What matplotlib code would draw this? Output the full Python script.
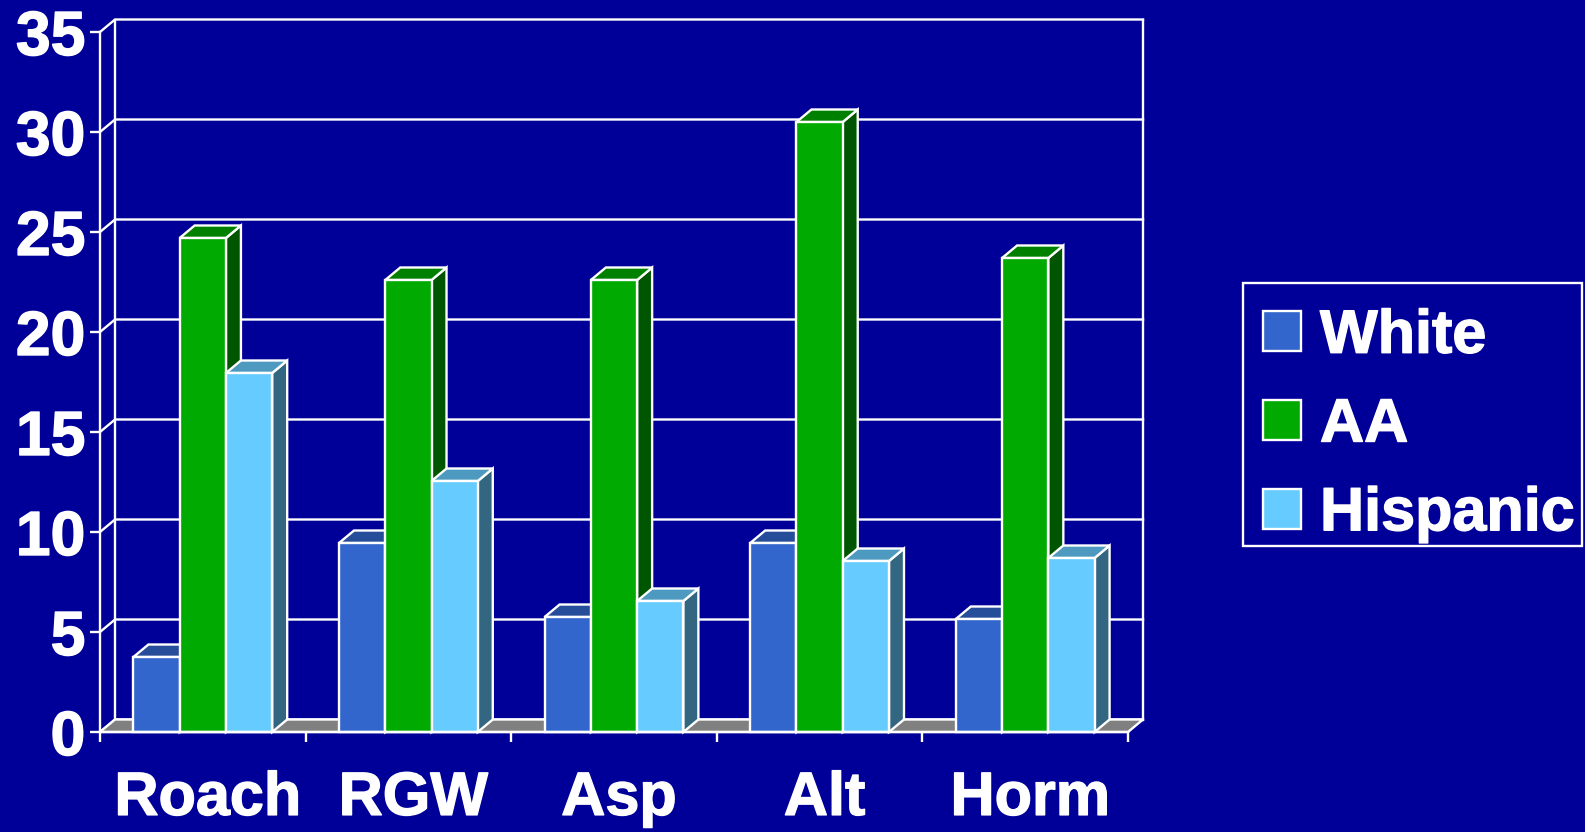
import matplotlib
matplotlib.use("Agg")
import matplotlib.pyplot as plt
import matplotlib.patheffects as pe
from matplotlib.patches import Patch, Rectangle
from matplotlib.transforms import ScaledTranslation

plt.rcParams['font.family'] = ['Liberation Sans', 'DejaVu Sans']

categories = ["Roach", "RGW", "Asp", "Alt", "Horm"]
series_names = ["White", "AA", "Hispanic"]
white = [3.75, 9.45, 5.75, 9.45, 5.65]
aa = [24.7, 22.6, 22.6, 30.5, 23.7]
hispanic = [17.95, 12.55, 6.55, 8.55, 8.7]
yticks = [0, 5, 10, 15, 20, 25, 30, 35]

BG = '#000099'
FRONT = ['#3366CC', '#00AA00', '#66CCFF']
TOP = ['#264D99', '#008000', '#4D99BF']
SIDE = ['#1F3D7A', '#005500', '#336680']

W, H = 1585, 832
L, R, T, B = 100, 1128, 32, 732
fig = plt.figure(figsize=(W / 100, H / 100), dpi=100, facecolor=BG)
ax = fig.add_axes([L / W, 1 - B / H, (R - L) / W, (B - T) / H], facecolor='none')
ax.set_xlim(0, 5)
ax.set_ylim(0, 35)

dx = 15 / ((R - L) / 5)
dy = 12.5 / ((B - T) / 35)
LW = 1.7
bar_w = 0.225
EC = 'white'
kw = dict(edgecolor=EC, linewidth=LW, clip_on=False, joinstyle='miter')
bold = [pe.withStroke(linewidth=1.0, foreground=EC)]

# walls
for v in yticks:
    ax.plot([0, dx, 5 + dx], [v, v + dy, v + dy], color=EC, lw=LW, clip_on=False, zorder=1)
ax.plot([dx, dx], [dy, 35 + dy], color=EC, lw=LW, clip_on=False, zorder=1)
ax.plot([5 + dx, 5 + dx], [dy, 35 + dy], color=EC, lw=LW, clip_on=False, zorder=1)
# floor
ax.fill([0, 5, 5 + dx, dx], [0, 0, dy, dy], facecolor='#808080', zorder=2, **kw)

# bars
z = 3
for i in range(len(categories)):
    for j, vals in enumerate([white, aa, hispanic]):
        v = vals[i]
        x0 = i + 0.5 + (j - 1.5) * bar_w
        x1 = x0 + bar_w
        ax.fill([x1, x1 + dx, x1 + dx, x1], [0, dy, v + dy, v], facecolor=SIDE[j], zorder=z, **kw)
        ax.fill([x0, x1, x1 + dx, x0 + dx], [v, v, v + dy, v + dy], facecolor=TOP[j], zorder=z, **kw)
        ax.bar(x0, v, bar_w, align='edge', color=FRONT[j], zorder=z + 1, **kw)
        z += 2

for s in ['top', 'right']:
    ax.spines[s].set_visible(False)
for s in ['left', 'bottom']:
    ax.spines[s].set_color(EC)
    ax.spines[s].set_linewidth(LW)
    ax.spines[s].set_zorder(500)

FS = 44
ax.set_yticks(yticks)
ax.set_yticklabels([str(v) for v in yticks], fontsize=45, fontweight='bold', color=EC, path_effects=bold)
ax.set_xticks(range(6))
ax.set_xticklabels([])
ax.set_xticks([i + 0.5 for i in range(5)], minor=True)
ax.set_xticklabels(categories, minor=True, fontsize=FS, fontweight='bold', color=EC, path_effects=bold)
ax.tick_params(axis='both', which='major', color=EC, width=LW, length=7.5, pad=3)
ax.tick_params(axis='x', which='minor', length=0, pad=28)
shift = ScaledTranslation(5 / 100, 0, fig.dpi_scale_trans)
for lab in ax.get_xticklabels(minor=True):
    lab.set_transform(lab.get_transform() + shift)

# legend
fig.add_artist(Rectangle((1243 / W, 1 - 546 / H), 339 / W, 263 / H, transform=fig.transFigure,
                         facecolor='none', edgecolor=EC, linewidth=LW))
handles = [Patch(facecolor=FRONT[k], edgecolor=EC, linewidth=LW) for k in range(3)]
fs_px = FS * 100 / 72
leg = fig.legend(handles, series_names, loc='center left',
                 bbox_to_anchor=(1263 / W, 1 - 426 / H), frameon=False,
                 borderpad=0, borderaxespad=0, handlelength=38 / fs_px, handleheight=38 / fs_px,
                 handletextpad=19 / fs_px, labelspacing=0.52, labelcolor=EC,
                 prop={'size': FS, 'weight': 'bold'})
for t in leg.get_texts():
    t.set_path_effects(bold)

fig.savefig('out.png', dpi=100, facecolor=BG)
